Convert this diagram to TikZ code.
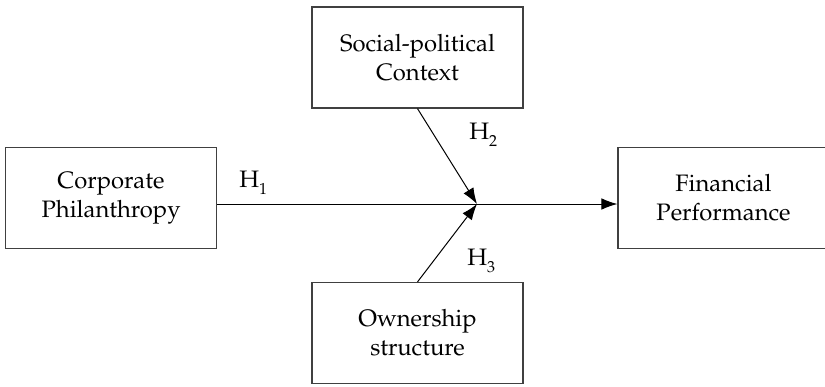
\documentclass[tikz,border=0pt]{standalone}
\usepackage[T1]{fontenc}
\usepackage{mathpazo}
\usetikzlibrary{arrows.meta,positioning,calc}

\newcommand{\hsub}[1]{H\raisebox{-3.5pt}{\fontsize{8}{8}\selectfont #1}}

\begin{document}
\begin{tikzpicture}[
    x=0.5pt,y=-0.5pt,
    var/.style={draw=black!75,line width=0.6pt,align=center,
               font=\fontsize{11.9}{14.5}\selectfont,
               minimum width=105.5pt,minimum height=50.5pt,inner sep=0pt},
    arr/.style={-{Latex[length=8pt,width=5.8pt]},draw=black,line width=0.5pt},
    hyp/.style={anchor=base west,inner sep=0pt,font=\fontsize{11.9}{14}\selectfont}
  ]
    \useasboundingbox (0,0) rectangle (825,386);
    \node[var] (cp)  at (111,198)   {Corporate\\Philanthropy};
    \node[var] (ctx) at (417.5,57.5){Social-political\\Context};
    \node[var] (own) at (417.5,333) {Ownership\\structure};
    \node[var] (fp)  at (723.5,198) {Financial\\Performance};
    \coordinate (j) at (477,204);
    % main path
    \draw[arr] (cp.east |- j)--(fp.west |- j);
    % moderators
    \draw[arr] (ctx.south)--(j);
    \draw[arr] (own.north)--(j);
    \node[hyp] (h1) at (239,187) {\hsub{1}};
    \node[hyp] (h2) at (469,139) {\hsub{2}};
    \node[hyp] (h3) at (467,265) {\hsub{3}};
  \end{tikzpicture}
\end{document}
